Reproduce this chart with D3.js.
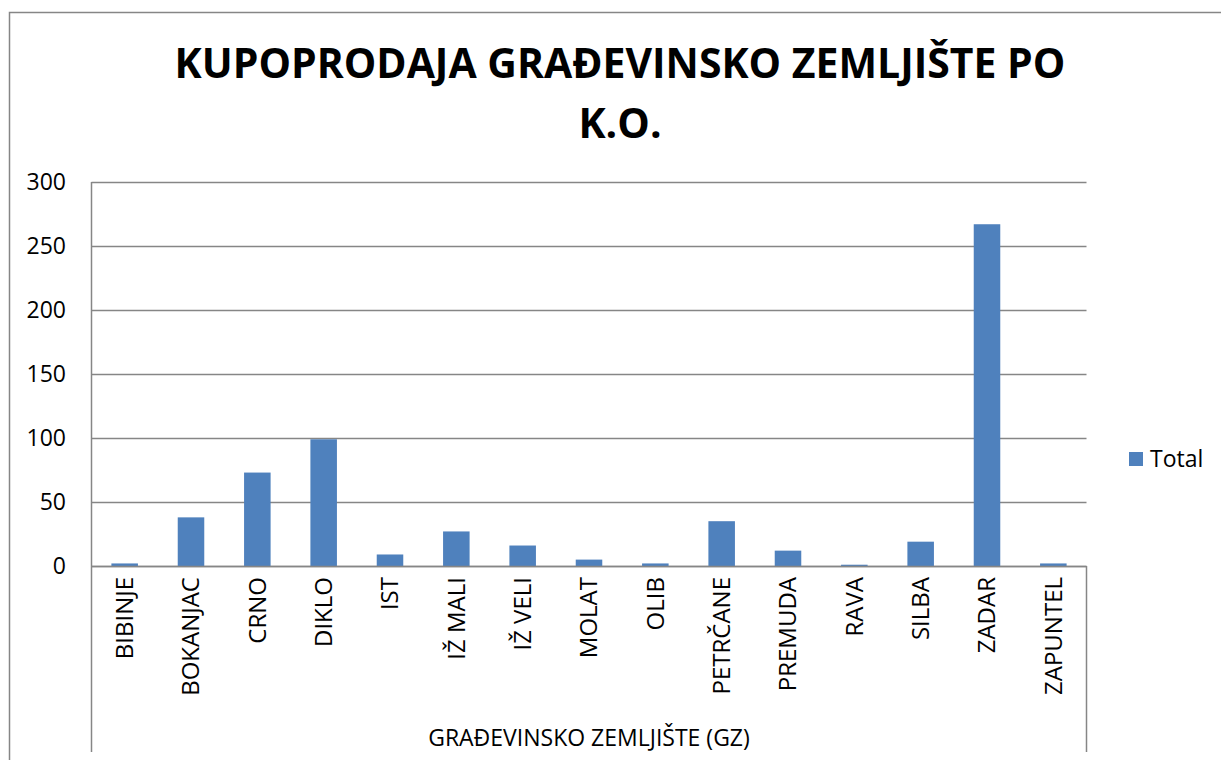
<!DOCTYPE html>
<html><head><meta charset="utf-8">
<script src="https://cdn.jsdelivr.net/npm/d3@7"></script>
<style>body{margin:0;background:#fff}svg{display:block}text{font-family:"Open Sans",sans-serif}</style>
</head><body>
<svg id="c" width="1221" height="760"></svg>
<script>
const categories = ["BIBINJE","BOKANJAC","CRNO","DIKLO","IST","IŽ MALI","IŽ VELI","MOLAT","OLIB","PETRČANE","PREMUDA","RAVA","SILBA","ZADAR","ZAPUNTEL"];
const totals = [2,38,73,99,9,27,16,5,2,35,12,1,19,267,2];
const yTicks = [0,50,100,150,200,250,300];
const titleLines = ["KUPOPRODAJA GRAĐEVINSKO ZEMLJIŠTE PO","K.O."];
const xTitle = "GRAĐEVINSKO ZEMLJIŠTE (GZ)";
const seriesName = "Total";

const svg = d3.select("#c");
const L = 91.5, R = 1086.5, T = 182, B = 566, boxBottom = 752;
const grid = "#868686", barColor = "#4F81BD";

// outer border
svg.append("path").attr("d","M9.5,760 V12.5 H1221").attr("fill","none").attr("stroke",grid).attr("stroke-width",1.5);

const x = d3.scaleBand().domain(categories).range([L, R]).paddingInner(0.6).paddingOuter(0.3);
const y = d3.scaleLinear().domain([0,300]).range([B, T]);

// gridlines
svg.append("g").selectAll("line").data(yTicks).join("line")
  .attr("x1",L).attr("x2",R).attr("y1",d=>Math.round(y(d))+0.5).attr("y2",d=>Math.round(y(d))+0.5)
  .attr("stroke",grid).attr("stroke-width",1.5);

// bars
svg.append("g").selectAll("rect").data(categories).join("rect")
  .attr("x",d=>x(d)).attr("width",x.bandwidth())
  .attr("y",(d,i)=>y(totals[i])).attr("height",(d,i)=>B-y(totals[i]))
  .attr("fill",barColor);

// axis lines
svg.append("line").attr("x1",L).attr("x2",L).attr("y1",T).attr("y2",boxBottom).attr("stroke",grid).attr("stroke-width",1.5);
svg.append("line").attr("x1",R).attr("x2",R).attr("y1",B).attr("y2",boxBottom).attr("stroke",grid).attr("stroke-width",1.5);
svg.append("line").attr("x1",L).attr("x2",R).attr("y1",B+0.5).attr("y2",B+0.5).attr("stroke",grid).attr("stroke-width",1.5);

// y tick labels
svg.append("g").selectAll("text").data(yTicks).join("text")
  .attr("x",66).attr("y",d=>y(d)).attr("dy","0.35em").attr("text-anchor","end")
  .attr("font-size",23).text(d=>d);

// category labels
svg.append("g").selectAll("text").data(categories).join("text")
  .attr("transform",d=>`translate(${x(d)+x.bandwidth()/2},577) rotate(-90)`)
  .attr("text-anchor","end").attr("dy","0.35em").attr("font-size",24).text(d=>d);

// x title
svg.append("text").attr("x",589).attr("y",746).attr("text-anchor","middle").attr("font-size",23).text(xTitle);

// title
const t = svg.append("text").attr("text-anchor","middle").attr("font-weight","bold").attr("font-size",40);
t.append("tspan").attr("x",620).attr("y",78).text(titleLines[0]);
t.append("tspan").attr("x",620).attr("y",138).text(titleLines[1]);
const w = t.node().firstChild.getComputedTextLength();
t.attr("font-size", 40*891/w);

// legend
svg.append("rect").attr("x",1129).attr("y",452).attr("width",14).attr("height",14).attr("fill",barColor);
svg.append("text").attr("x",1150).attr("y",459).attr("dy","0.35em").attr("font-size",23).text(seriesName);
</script>
</body></html>
